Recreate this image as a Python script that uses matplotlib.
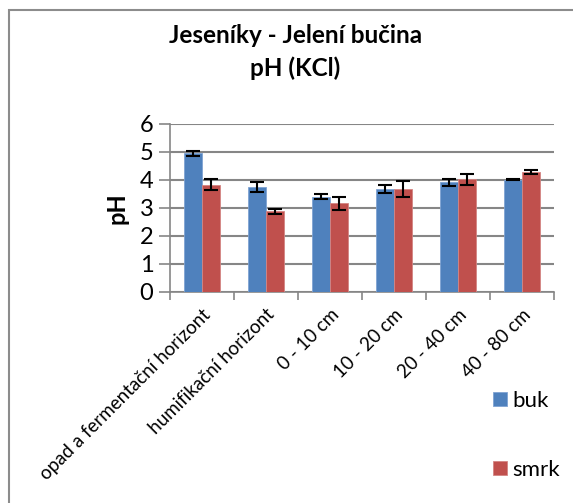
import numpy as np
import matplotlib.pyplot as plt
import matplotlib.transforms as mtransforms
from matplotlib.patches import Rectangle

plt.rcParams['font.family'] = ['Lato', 'DejaVu Sans']

kategorie = ['opad a fermentační horizont', 'humifikační horizont', '0 - 10 cm',
             '10 - 20 cm', '20 - 40 cm', '40 - 80 cm']
buk = [4.94, 3.74, 3.40, 3.67, 3.91, 4.00]
buk_err = [0.08, 0.18, 0.10, 0.14, 0.13, 0.02]
smrk = [3.83, 2.88, 3.16, 3.67, 4.02, 4.28]
smrk_err = [0.19, 0.09, 0.22, 0.30, 0.19, 0.08]

fig = plt.figure(figsize=(5.73, 5.03), dpi=100)
ax = fig.add_axes([0.2967, 0.4195, 0.67, 0.3345])

# ramecek grafu
fig.patches.append(Rectangle((9 / 573, -0.1), 1.2, 1 - 10 / 503 + 0.1, transform=fig.transFigure,
                             fill=False, edgecolor='#8c8c8c', linewidth=1.5))

x = np.arange(len(kategorie))
w = 0.28
ax.bar(x - w / 2, buk, w, color='#4F81BD', edgecolor='#7fa3d3', linewidth=0.6, label='buk',
       yerr=buk_err, capsize=5, error_kw=dict(elinewidth=1.5, capthick=1.5, ecolor='black'), zorder=3)
ax.bar(x + w / 2, smrk, w, color='#C0504D', edgecolor='#d48583', linewidth=0.6, label='smrk',
       yerr=smrk_err, capsize=5, error_kw=dict(elinewidth=1.5, capthick=1.5, ecolor='black'), zorder=3)

ax.set_xlim(-0.5, len(kategorie) - 0.5)
ax.set_ylim(0, 6)
ax.set_yticks(range(7))
ax.yaxis.grid(True, color='#868686', linewidth=1.5, zorder=0)
ax.tick_params(axis='y', labelsize=17, length=8, color='#868686', width=1.2, pad=4)
ax.set_xticks(np.arange(-0.5, len(kategorie)), minor=False)
ax.set_xticklabels([])
ax.set_xticks(x, minor=True)
popisky = ax.set_xticklabels(kategorie, minor=True, rotation=45, ha='right', va='top',
                             rotation_mode='anchor', fontsize=13.5)
posun = mtransforms.ScaledTranslation(-15 / 100, 0, fig.dpi_scale_trans)
for t in popisky:
    t.set_transform(t.get_transform() + posun)
ax.tick_params(axis='x', which='major', length=6, color='#868686', width=1.2)
ax.tick_params(axis='x', which='minor', length=0, pad=10)

for s in ['top', 'right']:
    ax.spines[s].set_visible(False)
for s in ['left', 'bottom']:
    ax.spines[s].set_color('#868686')
    ax.spines[s].set_linewidth(1.2)

ax.set_ylabel('pH', fontsize=17, fontweight='bold', labelpad=8)

fig.text(0.515, 0.93, 'Jeseníky - Jelení bučina', ha='center', va='center',
         fontsize=17.5, fontweight='bold')
fig.text(0.515, 0.865, 'pH (KCl)', ha='center', va='center', fontsize=17.5, fontweight='bold')

fig.legend(loc='center left', bbox_to_anchor=(0.826, 0.135), frameon=False,
           fontsize=16, labelspacing=2.2, handlelength=0.6, handleheight=0.6,
           handletextpad=0.25)

fig.savefig('out.png', dpi=100)
